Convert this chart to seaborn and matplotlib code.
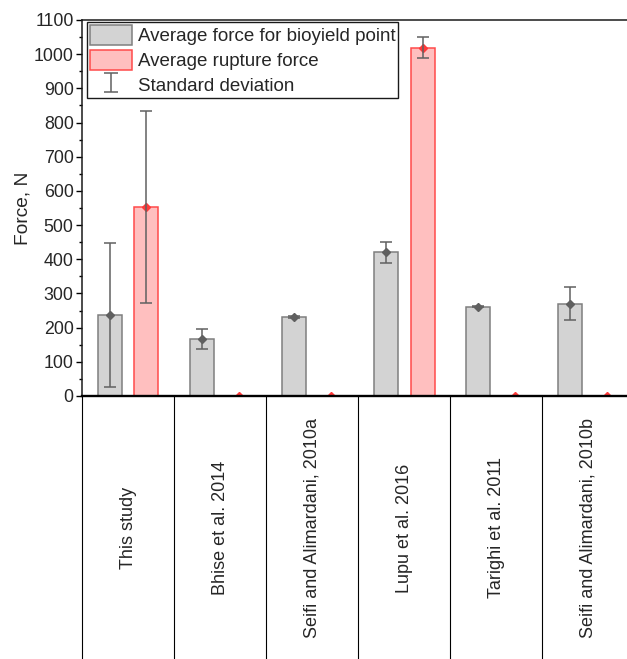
import numpy as np
import pandas as pd
import matplotlib
matplotlib.use("Agg")
import matplotlib.pyplot as plt
import seaborn as sns
from matplotlib.patches import Patch

# Source studies (x categories)
studies = [
    "This study",
    "Bhise et al. 2014",
    "Seifi and Alimardani, 2010a",
    "Lupu et al. 2016",
    "Tarighi et al. 2011",
    "Seifi and Alimardani, 2010b",
]
series = ["Average force for bioyield point", "Average rupture force"]

# Mean forces (N) and standard deviations
bioyield_mean = [238, 167, 230, 420, 261, 270]
bioyield_sd = [211, 29, 3, 31, 2, 49]
rupture_mean = [553, 0, 0, 1019, 0, 0]
rupture_sd = [281, 0, 0, 30, 0, 0]

fill_colors = ["#d3d3d3", "#ffbfbf"]
edge_colors = ["#7f7f7f", "#ff4a4a"]
marker_colors = ["#5f5f5f", "#ff3a3a"]
err_color = "#616161"

df = pd.DataFrame({
    "study": studies * 2,
    "series": [series[0]] * len(studies) + [series[1]] * len(studies),
    "force": bioyield_mean + rupture_mean,
    "sd": bioyield_sd + rupture_sd,
})

sns.set_style("ticks")
plt.rcParams["font.family"] = ["Liberation Sans", "DejaVu Sans"]

fig = plt.figure(figsize=(6.27, 6.59), dpi=100)
ax = fig.add_axes([82 / 627, 263 / 659, 552.5 / 627, 376 / 659])

sns.barplot(
    data=df, x="study", y="force", hue="series", order=studies,
    hue_order=series, palette=fill_colors, saturation=1, width=0.8, gap=0.35,
    errorbar=None, legend=False, ax=ax, zorder=1,
)

# Outline colours and error bars per series
bar_groups = list(ax.containers)
for k, cont in enumerate(bar_groups):
    sub = df[df["series"] == series[k]].set_index("study").loc[studies]
    xs, ys, es = [], [], []
    for bar, (val, sd) in zip(cont, zip(sub["force"], sub["sd"])):
        bar.set_edgecolor(edge_colors[k])
        bar.set_linewidth(1.1)
        xs.append(bar.get_x() + bar.get_width() / 2)
        ys.append(bar.get_height())
        es.append(sd if sd > 0 else np.nan)
    xs, ys, es = np.array(xs), np.array(ys), np.array(es)
    ax.plot(xs, ys, ls="none", marker="D", ms=3.6, color=marker_colors[k],
            zorder=2)
    ax.errorbar(xs, ys, yerr=es, fmt="none", ecolor=err_color, elinewidth=1.1,
                capsize=4.2, capthick=1.1, zorder=3)

ax.set_xlim(-0.5, len(studies) - 0.5)
ax.set_ylim(0, 1100)
ax.set_yticks(np.arange(0, 1101, 100))
ax.set_yticks(np.arange(50, 1100, 100), minor=True)
ax.set_xticks(np.arange(-0.5, len(studies), 1), minor=True)

ax.set_xlabel("")
ax.set_ylabel("Force, N", fontsize=13.8, labelpad=2)

ax.tick_params(axis="y", which="major", direction="out", length=4, width=1,
               labelsize=12.8, color="black", pad=2)
ax.tick_params(axis="y", which="minor", direction="out", length=2.5, width=1,
               color="black")
ax.tick_params(axis="x", which="major", length=0, pad=95, labelsize=13)
ax.tick_params(axis="x", which="minor", direction="out", length=195,
               width=0.8, color="black")
for lbl in ax.get_xticklabels():
    lbl.set_rotation(90)
    lbl.set_va("center")
    lbl.set_ha("center")

for side in ["left", "top", "right"]:
    ax.spines[side].set_color("#1a1a1a")
    ax.spines[side].set_linewidth(1.1)
ax.spines["bottom"].set_color("black")
ax.spines["bottom"].set_linewidth(1.7)
for sp in ax.spines.values():
    sp.set_zorder(4)

# Legend: two bar swatches plus the error bar glyph (a point outside the view)
eb = ax.errorbar([-10], [-10], yerr=[1], fmt="none", ecolor=err_color,
                 elinewidth=1.1, capsize=5, capthick=1.1)
handles = [
    Patch(facecolor=fill_colors[0], edgecolor=edge_colors[0], linewidth=1.1),
    Patch(facecolor=fill_colors[1], edgecolor=edge_colors[1], linewidth=1.1),
    eb,
]
labels = series + ["Standard deviation"]
leg = fig.legend(
    handles, labels, loc="upper left",
    bbox_to_anchor=(87 / 627, 1 - 22 / 659), bbox_transform=fig.transFigure,
    fontsize=13.5, frameon=True, fancybox=False, framealpha=1,
    edgecolor="#1a1a1a", handlelength=2.25, handleheight=1.25,
    labelspacing=0.25, borderpad=0.15, handletextpad=0.3, borderaxespad=0,
)
leg.get_frame().set_linewidth(1.0)

fig.savefig("out.png", dpi=100)
